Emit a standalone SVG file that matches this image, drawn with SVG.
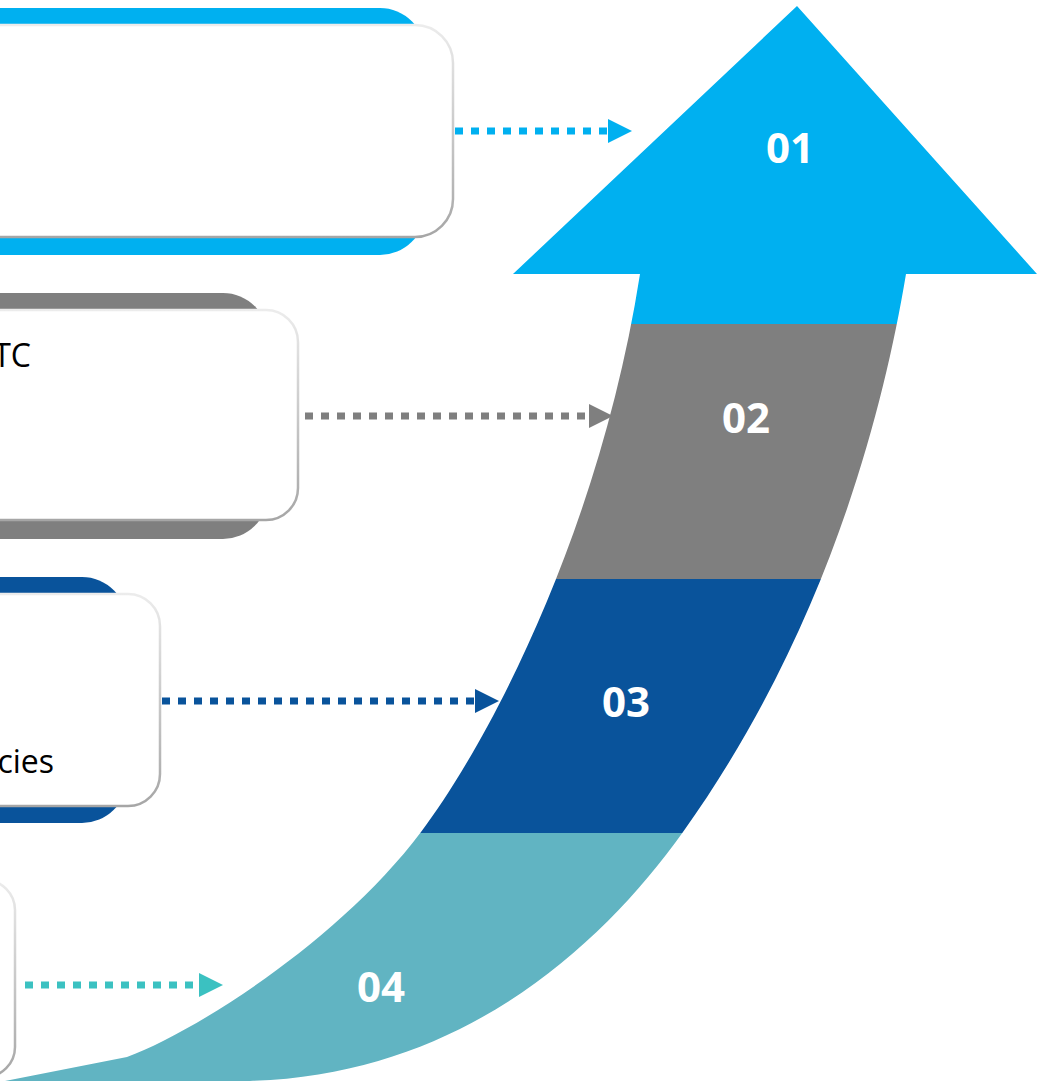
<svg xmlns="http://www.w3.org/2000/svg" width="1038" height="1081" viewBox="0 0 1038 1081">
<style>
.card{fill:#ffffff;stroke:url(#cardStroke);stroke-width:2.5}
.num{font-family:"Open Sans","Liberation Sans",sans-serif;font-weight:bold;font-size:42px;fill:#ffffff;text-anchor:middle}
.txt{font-family:"Open Sans","Liberation Sans",sans-serif;font-size:32px;fill:#000000;text-anchor:end}
.conn{fill:none;stroke-width:7;stroke-dasharray:8 8}
</style>
<defs>
<linearGradient id="cardStroke" x1="0" y1="0" x2="0" y2="1">
<stop offset="0" stop-color="#ececec"/>
<stop offset="1" stop-color="#a6a6a6"/>
</linearGradient>
<clipPath id="arrowClip">
<path d="M797,6 L1037,274 L906,274 C880,430 820,640 683,832 C600,948 460,1075 250,1081 L5,1081 L127,1057 C195,1032 340,940 421,832 C490,740 600,530 640,274 L513,274 Z"/>
</clipPath>
<marker id="mBlue" markerUnits="userSpaceOnUse" markerWidth="24" markerHeight="24" refX="0" refY="12" orient="auto"><path d="M0,0 L24,12 L0,24 Z" fill="#00B0F0"/></marker>
<marker id="mGray" markerUnits="userSpaceOnUse" markerWidth="24" markerHeight="24" refX="0" refY="12" orient="auto"><path d="M0,0 L24,12 L0,24 Z" fill="#7F7F7F"/></marker>
<marker id="mDark" markerUnits="userSpaceOnUse" markerWidth="24" markerHeight="24" refX="0" refY="12" orient="auto"><path d="M0,0 L24,12 L0,24 Z" fill="#09539B"/></marker>
<marker id="mTeal" markerUnits="userSpaceOnUse" markerWidth="24" markerHeight="24" refX="0" refY="12" orient="auto"><path d="M0,0 L24,12 L0,24 Z" fill="#3BC1C1"/></marker>
</defs>
<rect width="1038" height="1081" fill="#ffffff"/>

<g id="box1">
<rect x="-60" y="8" width="485" height="247" rx="45" fill="#00B0F0"/>
<rect class="card" x="-60" y="25" width="513" height="212" rx="38"/>
</g>
<g id="box2">
<rect x="-60" y="293" width="328" height="246" rx="45" fill="#7F7F7F"/>
<rect class="card" x="-60" y="310" width="358" height="210" rx="32"/>
<text class="txt" x="31" y="367">TC</text>
</g>
<g id="box3">
<rect x="-60" y="577" width="187" height="246" rx="45" fill="#09539B"/>
<rect class="card" x="-60" y="594" width="220" height="212" rx="32"/>
<text class="txt" x="54" y="773">cies</text>
</g>
<g id="box4">
<rect class="card" x="-300" y="880" width="315" height="197" rx="30"/>
</g>

<g id="growth-arrow" clip-path="url(#arrowClip)">
<g id="stage01"><rect x="0" y="0" width="1038" height="324" fill="#00B0F0"/></g>
<g id="stage02"><rect x="0" y="324" width="1038" height="255" fill="#7F7F7F"/></g>
<g id="stage03"><rect x="0" y="579" width="1038" height="254" fill="#09539B"/></g>
<g id="stage04"><rect x="0" y="833" width="1038" height="248" fill="#61B4C2"/></g>
</g>
<g id="stage-labels">
<text class="num" x="790" y="163">01</text>
<text class="num" x="746" y="433">02</text>
<text class="num" x="626" y="717">03</text>
<text class="num" x="381" y="1002">04</text>
</g>

<g id="connectors">
<line class="conn" x1="455" y1="131" x2="608" y2="131" stroke="#00B0F0" marker-end="url(#mBlue)"/>
<line class="conn" x1="305" y1="416" x2="589" y2="416" stroke="#7F7F7F" marker-end="url(#mGray)"/>
<line class="conn" x1="162" y1="701" x2="475" y2="701" stroke="#09539B" marker-end="url(#mDark)"/>
<line class="conn" x1="25" y1="985" x2="199" y2="985" stroke="#3BC1C1" marker-end="url(#mTeal)"/>
</g>
</svg>
